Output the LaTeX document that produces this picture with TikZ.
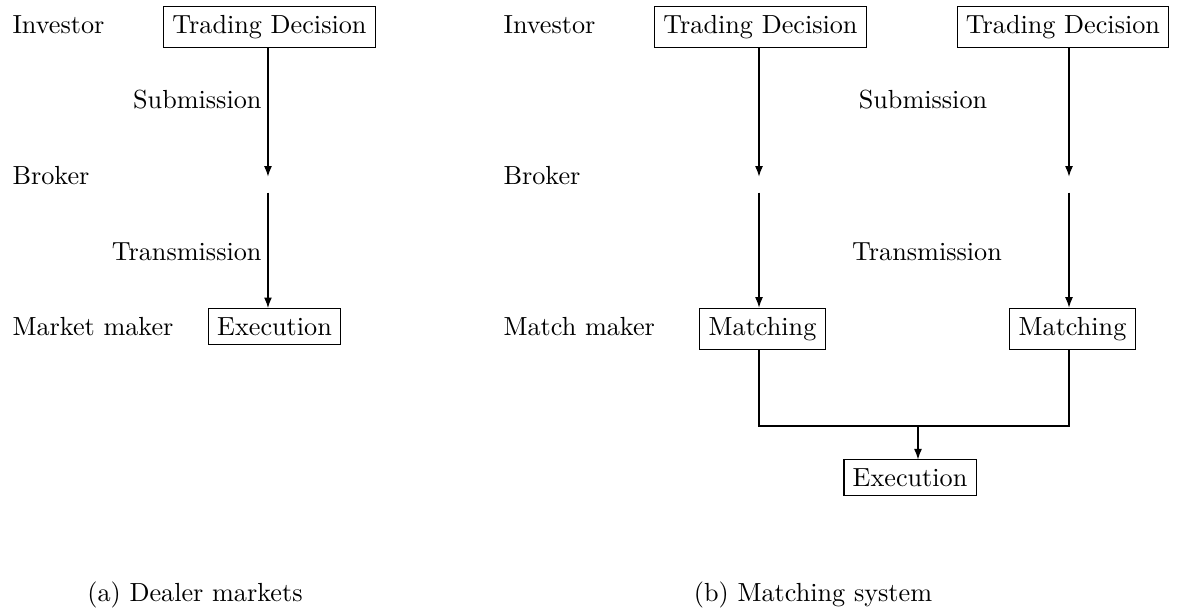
\documentclass[tikz,border=0pt]{standalone}
\usepackage{tikz}
\usetikzlibrary{arrows.meta, positioning, calc}

\begin{document}
\begin{tikzpicture}[
    procbox/.style={draw, anchor=base},
    rolelabel/.style={anchor=base west, inner sep=0pt},
    stagelabel/.style={inner sep=0pt},
    relay/.style={inner sep=0pt, minimum size=0.2cm},
    flow/.style={-{Latex[length=4pt, width=3pt]}}
]
\useasboundingbox (0,0) rectangle (15.906,-8.201);

% === (a) DEALER MARKETS ===
\node[rolelabel] (invA) at (0.161, -0.443) {Investor};
\node[rolelabel] (brkA) at (0.161, -2.470) {Broker};
\node[rolelabel] (mmA) at (0.161, -4.497) {Market maker};

\node[procbox] (tdA) at (3.617, -0.443) {Trading Decision};
\node[relay] (brokerA) at (3.597, -2.477) {};
\node[procbox] (execA) at (3.685, -4.497) {Execution};

\node[stagelabel, anchor=base east] (subA) at (3.517, -1.463) {Submission};
\node[stagelabel, anchor=base east] (trA) at (3.517, -3.490) {Transmission};

\draw[flow] (tdA.south -| brokerA) -- (brokerA);
\draw[flow] (brokerA) -- (brokerA |- execA.north);

% === (b) MATCHING SYSTEM ===
\node[rolelabel] (invB) at (6.752, -0.443) {Investor};
\node[rolelabel] (brkB) at (6.752, -2.470) {Broker};
\node[rolelabel] (mmB) at (6.752, -4.497) {Match maker};

\node[procbox] (tdB1) at (10.208, -0.443) {Trading Decision};
\node[procbox] (tdB2) at (14.268, -0.443) {Trading Decision};
\node[relay] (brokerB1) at (10.188, -2.477) {};
\node[relay] (brokerB2) at (14.349, -2.477) {};
\node[procbox] (matchB1) at (10.235, -4.497) {Matching};
\node[procbox] (matchB2) at (14.396, -4.497) {Matching};
\node[procbox] (execB) at (12.215, -6.530) {Execution};

\node[stagelabel, anchor=base] (subB) at (12.389, -1.463) {Submission};
\node[stagelabel, anchor=base] (trB) at (12.443, -3.490) {Transmission};

\foreach \col in {B1, B2} {
    \draw[flow] (td\col.south -| broker\col) -- (broker\col);
    \draw[flow] (broker\col) -- (broker\col |- match\col.north);
}

\coordinate (join) at (12.322, -5.718);
\draw (matchB1.south -| brokerB1) |- (join) -| (matchB2.south -| brokerB2);
\draw[flow] (join) -- (join |- execB.north);

% === CAPTIONS ===
\node[stagelabel, anchor=base] (capA) at (2.617, -8.067) {(a) Dealer markets};
\node[stagelabel, anchor=base] (capB) at (10.913, -8.067) {(b) Matching system};

\end{tikzpicture}
\end{document}
